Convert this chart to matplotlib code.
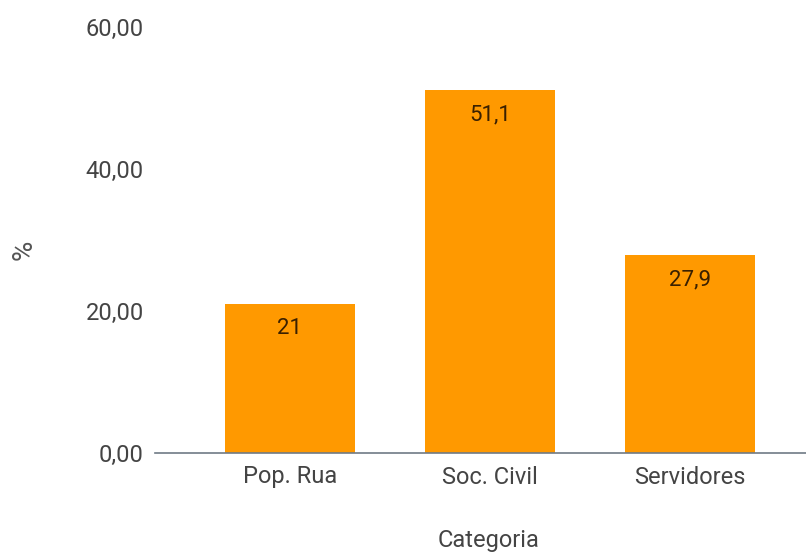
import matplotlib.pyplot as plt

categorias = ["Pop. Rua", "Soc. Civil", "Servidores"]
valores = [21.0, 51.1, 27.9]
rotulos = ["21", "51,1", "27,9"]
yticks = [0, 20, 40, 60]
ytick_labels = ["0,00", "20,00", "40,00", "60,00"]

plt.rcParams['font.family'] = ['Roboto', 'DejaVu Sans']

fig = plt.figure(figsize=(8.06, 5.55), dpi=100)
# axes box in pixels: left 155, baseline at y=453, top (60) at y=27
ax = fig.add_axes([155 / 806, 102 / 555, 651 / 806, 426 / 555])

x = list(range(len(categorias)))
ax.bar(x, valores, width=0.65, color='#ff9900', zorder=2)

for xi, v, lab in zip(x, valores, rotulos):
    ax.annotate(lab, (xi, v), xytext=(0, -18), textcoords='offset points',
                ha='center', va='center', fontsize=16, color='#3a2000')

ax.set_xlim(-0.675, 2.58)
ax.set_ylim(0, 60)
ax.set_xticks(x)
ax.set_xticklabels(categorias, fontsize=17, color='#444444')
ax.set_yticks(yticks)
ax.set_yticklabels(ytick_labels, fontsize=17, color='#444444')
ax.tick_params(axis='both', length=0)
ax.tick_params(axis='x', pad=9)
ax.tick_params(axis='y', pad=8)

for side in ['top', 'right', 'left']:
    ax.spines[side].set_visible(False)
ax.spines['bottom'].set_color('#6f7a85')
ax.spines['bottom'].set_linewidth(1.2)
ax.spines['bottom'].set_zorder(3)

fig.text(24 / 806, 1 - 250 / 555, "%", rotation=90, ha='center', va='center',
         fontsize=20, color='#555555')
fig.text(489 / 806, 1 - 540 / 555, "Categoria", ha='center', va='center',
         fontsize=17, color='#444444')

fig.savefig("out.png", dpi=100)
